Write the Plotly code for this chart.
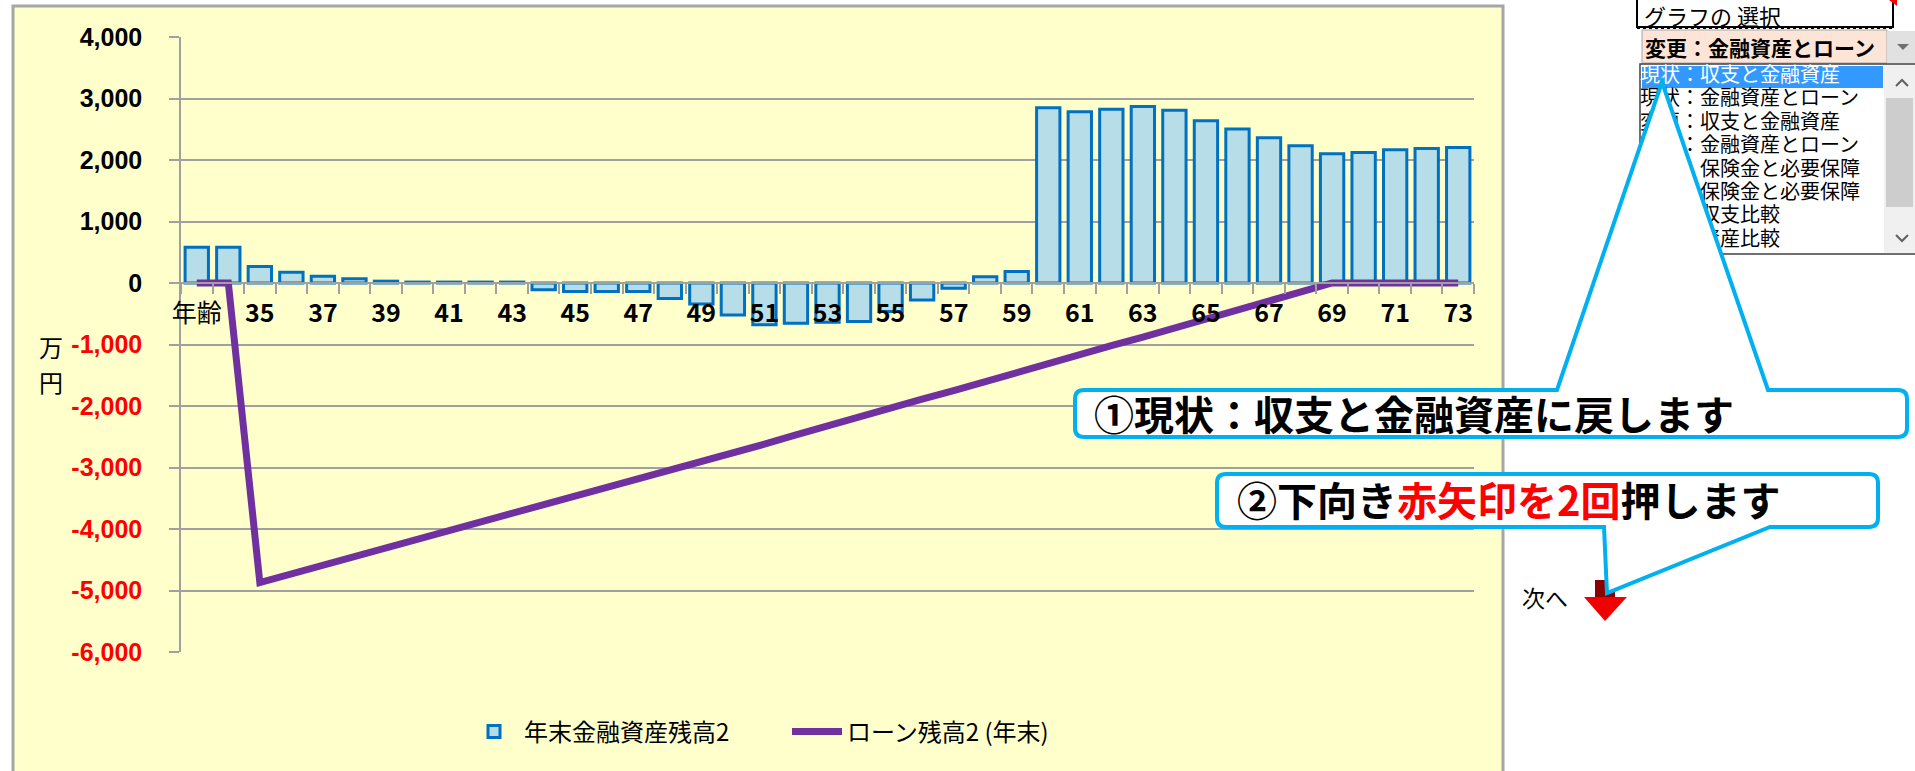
import plotly.graph_objects as go

# ---------------- data ----------------
ages = ["年齢", "34", "35", "36", "37", "38", "39", "40", "41", "42", "43", "44", "45", "46",
        "47", "48", "49", "50", "51", "52", "53", "54", "55", "56", "57", "58", "59", "60",
        "61", "62", "63", "64", "65", "66", "67", "68", "69", "70", "71", "72", "73"]
assets = [580, 580, 270, 175, 110, 70, 30, 15, 15, 15, 15, -110, -140, -140,
          -140, -250, -340, -520, -680, -655, -640, -625, -465, -275, -85, 100, 185, 2850,
          2785, 2825, 2870, 2810, 2640, 2505, 2360, 2230, 2100, 2120, 2165, 2185, 2205]
loan = [0, 0, -4870, -4730, -4590, -4450, -4310, -4170, -4040, -3900, -3760, -3620, -3480, -3340,
        -3200, -3060, -2920, -2770, -2620, -2470, -2320, -2170, -2030, -1890, -1750, -1600, -1460, -1310,
        -1170, -1020, -880, -730, -590, -440, -300, -150, 0, 0, 0, 0, 0]
y_ticks = [4000, 3000, 2000, 1000, 0, -1000, -2000, -3000, -4000, -5000, -6000]
y_ticktext = ["4,000", "3,000", "2,000", "1,000", "0", "-1,000", "-2,000", "-3,000",
              "-4,000", "-5,000", "-6,000"]
list_items = ["現状：収支と金融資産", "現状：金融資産とローン", "変更：収支と金融資産",
              "変更：金融資産とローン", "現状：保険金と必要保障", "変更：保険金と必要保障",
              "比較：収支比較", "比較：資産比較"]
series_names = ["年末金融資産残高2", "ローン残高2 (年末)"]

# ---------------- geometry helpers (pixel -> paper, paper = whole figure) ----------------
W, H = 1915, 771
L, R, T, B = 181, 1474, 37, 652
YMIN, YMAX = -6000, 4000


def PX(x):
    return x / W


def PY(y):
    return (H - y) / H


def path(pts, close=True):
    s = "M " + " L ".join(f"{PX(x):.5f},{PY(y):.5f}" for x, y in pts)
    return s + (" Z" if close else "")


def callout_path(x0, y0, x1, y1, r, ptr, top=True):
    xa, xb, ax, ay = ptr

    def p(x, y):
        return f"{PX(x):.5f},{PY(y):.5f}"
    s = f"M {p(x0 + r, y0)} "
    if top:
        s += f"L {p(xa, y0)} L {p(ax, ay)} L {p(xb, y0)} "
    s += f"L {p(x1 - r, y0)} Q {p(x1, y0)} {p(x1, y0 + r)} "
    s += f"L {p(x1, y1 - r)} Q {p(x1, y1)} {p(x1 - r, y1)} "
    if not top:
        s += f"L {p(xb, y1)} L {p(ax, ay)} L {p(xa, y1)} "
    s += f"L {p(x0 + r, y1)} Q {p(x0, y1)} {p(x0, y1 - r)} "
    s += f"L {p(x0, y0 + r)} Q {p(x0, y0)} {p(x0 + r, y0)} Z"
    return s


CJK = "Noto Sans CJK JP"

fig = go.Figure()
fig.add_trace(go.Bar(
    x=ages, y=assets, name=series_names[0],
    marker=dict(color="#B7DEE8", line=dict(color="#0070C0", width=3)),
))
fig.add_trace(go.Scatter(
    x=ages, y=loan, name=series_names[1], mode="lines",
    line=dict(color="#7030A0", width=7),
))
# list box item texts, on a full-figure pixel subplot so the callout pointer covers them
fig.add_trace(go.Scatter(
    x=[1640] * len(list_items), y=[77 + 23.4 * i for i in range(len(list_items))],
    xaxis="x2", yaxis="y2", mode="text", text=list_items,
    textposition="middle right", cliponaxis=False, showlegend=False, hoverinfo="skip",
    textfont=dict(family=CJK, size=20, color=["#FFFFFF"] + ["#000000"] * (len(list_items) - 1)),
))

x_ticktext = [a if i % 2 == 0 else "" for i, a in enumerate(ages)]
x_ticktext[0] = "<span style='font-weight:normal'>年齢</span>"
y_tt = [t if v >= 0 else f"<span style='color:#FF0000'>{t}</span>" for v, t in zip(y_ticks, y_ticktext)]

grid_col = "#A0A0A0"
zero_px = B - (0 - YMIN) / (YMAX - YMIN) * (B - T)

shapes = []
# chart area
shapes.append(dict(type="rect", layer="below", x0=PX(13), x1=PX(1503), y0=PY(6), y1=PY(800),
                   fillcolor="#FFFFCC", line=dict(color="#A6A6A6", width=3)))
# --- top-right controls ---
shapes.append(dict(type="rect", layer="below", x0=PX(1637), x1=PX(1893), y0=PY(-2), y1=PY(27),
                   fillcolor="#FFFFFF", line=dict(color="#000000", width=2)))
shapes.append(dict(type="line", layer="below", x0=PX(1637), x1=PX(1893), y0=PY(28), y1=PY(28),
                   line=dict(color="#000000", width=2, dash="dot")))
shapes.append(dict(type="path", layer="below", path=path([(1889, 0), (1897, 0), (1897, 6)]),
                   fillcolor="#FF0000", line=dict(width=0)))
shapes.append(dict(type="rect", layer="below", x0=PX(1642), x1=PX(1887), y0=PY(30), y1=PY(63),
                   fillcolor="#FCE4D6", line=dict(color="#A6A6A6", width=1)))
shapes.append(dict(type="rect", layer="below", x0=PX(1887), x1=PX(1916), y0=PY(31), y1=PY(63),
                   fillcolor="#E1E1E1", line=dict(width=0)))
shapes.append(dict(type="path", layer="below", path=path([(1897, 44), (1909, 44), (1903, 50)]),
                   fillcolor="#707070", line=dict(width=0)))
shapes.append(dict(type="rect", layer="below", x0=PX(1640), x1=PX(1916), y0=PY(64), y1=PY(254),
                   fillcolor="#FFFFFF", line=dict(color="#404040", width=1.5)))
shapes.append(dict(type="rect", layer="below", x0=PX(1642), x1=PX(1883), y0=PY(66), y1=PY(88),
                   fillcolor="#3399FF", line=dict(width=0)))
shapes.append(dict(type="rect", layer="below", x0=PX(1884), x1=PX(1915), y0=PY(65), y1=PY(253),
                   fillcolor="#F0F0F0", line=dict(width=0)))
shapes.append(dict(type="rect", layer="below", x0=PX(1886), x1=PX(1913), y0=PY(98), y1=PY(207),
                   fillcolor="#CDCDCD", line=dict(width=0)))
shapes.append(dict(type="path", layer="below", path=path([(1896, 86), (1902, 80), (1908, 86)], close=False),
                   line=dict(color="#606060", width=2)))
shapes.append(dict(type="path", layer="below", path=path([(1896, 235), (1902, 241), (1908, 235)], close=False),
                   line=dict(color="#606060", width=2)))
# --- red arrow ---
shapes.append(dict(type="rect", layer="above", x0=PX(1595), x1=PX(1615), y0=PY(580), y1=PY(598),
                   fillcolor="#8B0000", line=dict(width=0)))
shapes.append(dict(type="path", layer="above", path=path([(1584, 597), (1627, 597), (1605, 621)]),
                   fillcolor="#F00000", line=dict(width=0)))
# --- callouts ---
shapes.append(dict(type="path", layer="above",
                   path=callout_path(1075, 390, 1907, 437, 9, (1557, 1768, 1662, 82), top=True),
                   fillcolor="#FFFFFF", line=dict(color="#00B0F0", width=4)))
shapes.append(dict(type="path", layer="above",
                   path=callout_path(1217, 474, 1878, 527, 9, (1604, 1770, 1607, 593), top=False),
                   fillcolor="#FFFFFF", line=dict(color="#00B0F0", width=4)))
for s in shapes:
    s.update(xref="paper", yref="paper")

annotations = [
    dict(x=PX(51), y=PY(347), text="万", font=dict(family=CJK, size=24, color="#000000")),
    dict(x=PX(51), y=PY(381), text="円", font=dict(family=CJK, size=24, color="#000000")),
    dict(x=PX(1642), y=PY(15), xanchor="left", text="グラフの 選択",
         font=dict(family=CJK, size=22, color="#000000")),
    dict(x=PX(1643), y=PY(47), xanchor="left", text="変更：金融資産とローン",
         font=dict(family=CJK, size=21, color="#000000", weight="bold")),
    dict(x=PX(1092), y=PY(413), xanchor="left", text="①現状：収支と金融資産に戻します",
         font=dict(family=CJK, size=40, color="#000000", weight="bold")),
    dict(x=PX(1235), y=PY(499), xanchor="left",
         text="②下向き<span style='color:#FF0000'>赤矢印を2回</span>押します",
         font=dict(family=CJK, size=40, color="#000000", weight="bold")),
    dict(x=PX(1570), y=PY(597), xanchor="right", text="次へ",
         font=dict(family=CJK, size=23, color="#000000")),
]
for a in annotations:
    a.update(xref="paper", yref="paper", showarrow=False)
    a.setdefault("xanchor", "center")
    a.setdefault("yanchor", "middle")

fig.update_layout(
    width=W, height=H,
    margin=dict(l=0, r=0, t=0, b=0, pad=0),
    paper_bgcolor="#FFFFFF", plot_bgcolor="rgba(0,0,0,0)",
    bargap=0.26,
    showlegend=True,
    legend=dict(orientation="h", x=PX(464), y=PY(732), xanchor="left", yanchor="middle",
                bgcolor="rgba(0,0,0,0)", font=dict(family=CJK, size=24, color="#000000"),
                itemwidth=50, traceorder="normal", entrywidth=258, entrywidthmode="pixels"),
    xaxis=dict(type="category", categoryorder="array", categoryarray=ages,
               domain=[L / W, R / W], anchor="free", position=PY(zero_px),
               showgrid=False, zeroline=False, automargin=False,
               showline=True, linecolor=grid_col, linewidth=1.5,
               tickmode="array", tickvals=ages, ticktext=x_ticktext, tickangle=0,
               ticks="outside", ticklen=10, tickwidth=1.5, tickcolor=grid_col,
               tickson="boundaries", ticklabelstandoff=8,
               tickfont=dict(family="Liberation Sans Narrow, " + CJK, size=25, color="#000000", weight="bold"),
               range=[-0.5, len(ages) - 0.5]),
    yaxis=dict(domain=[PY(B), PY(T)], anchor="x", range=[YMIN, YMAX],
               tickmode="array", tickvals=y_ticks, ticktext=y_tt, automargin=False,
               showgrid=True, gridcolor=grid_col, gridwidth=1.5, zeroline=False,
               showline=True, linecolor=grid_col, linewidth=1.5,
               ticks="outside", ticklen=10, tickwidth=1.5, tickcolor=grid_col,
               ticklabelstandoff=22,
               tickfont=dict(family="Liberation Sans", size=25, color="#000000", weight="bold")),
    xaxis2=dict(domain=[0, 1], anchor="y2", range=[0, W], visible=False, fixedrange=True),
    yaxis2=dict(domain=[0, 1], anchor="x2", range=[H, 0], visible=False, fixedrange=True),
    shapes=shapes,
    annotations=annotations,
)

fig.write_html("out.html", config={"displayModeBar": False},
               post_script="document.body.style.margin='0';")
